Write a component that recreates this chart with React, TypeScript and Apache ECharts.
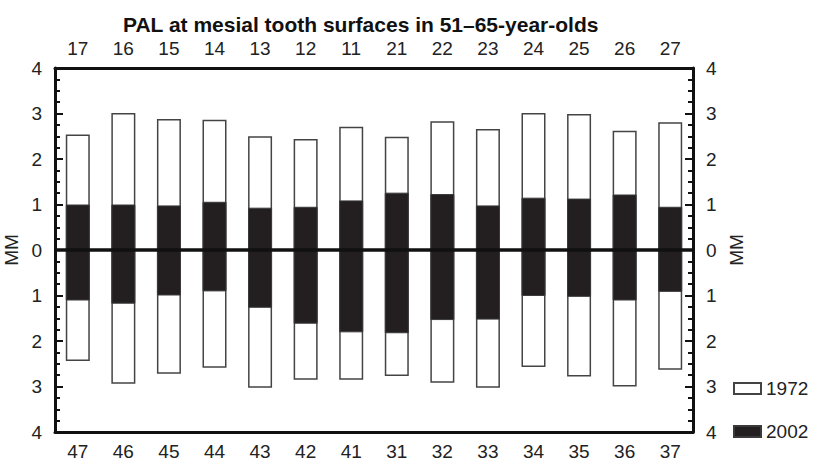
import React, { useEffect, useRef } from "react";
import * as echarts from "echarts";

const upperTeeth = ["17", "16", "15", "14", "13", "12", "11", "21", "22", "23", "24", "25", "26", "27"];
const lowerTeeth = ["47", "46", "45", "44", "43", "42", "41", "31", "32", "33", "34", "35", "36", "37"];
const upper1972 = [2.54, 3.01, 2.88, 2.86, 2.5, 2.44, 2.71, 2.49, 2.83, 2.66, 3.01, 2.99, 2.62, 2.81];
const lower1972 = [2.44, 2.94, 2.72, 2.59, 3.03, 2.85, 2.85, 2.77, 2.92, 3.03, 2.57, 2.78, 3.0, 2.63];
const upper2002 = [1.0, 1.0, 0.98, 1.06, 0.93, 0.95, 1.09, 1.26, 1.23, 0.98, 1.15, 1.13, 1.22, 0.95];
const lower2002 = [1.11, 1.18, 1.0, 0.91, 1.27, 1.62, 1.81, 1.83, 1.54, 1.53, 1.01, 1.03, 1.11, 0.92];

const FONT = "'Liberation Sans', Arial, Helvetica, sans-serif";

export default function App() {
  const ref = useRef<HTMLDivElement>(null);
  useEffect(() => {
    if (!ref.current) return;
    const chart = echarts.init(ref.current, undefined, { renderer: "svg" });
    const whiteStyle = { color: "#ffffff", borderColor: "#444444", borderWidth: 1.5 };
    const blackStyle = { color: "#231f20", borderColor: "#3a3a3a", borderWidth: 1 };
    const yAxisCommon = {
      type: "value",
      min: -4,
      max: 4,
      interval: 1,
      name: "MM",
      nameLocation: "middle",
      nameRotate: 90,
      nameTextStyle: { fontSize: 19, color: "#222", fontFamily: FONT },
      axisLine: { show: true, onZero: false, lineStyle: { color: "#111", width: 3 } },
      axisTick: { show: true, inside: true, length: 8, lineStyle: { color: "#111", width: 2 } },
      minorTick: { show: true, splitNumber: 4, length: 5, lineStyle: { color: "#111", width: 2 } },
      splitLine: { show: false },
      axisLabel: {
        fontSize: 19,
        color: "#222",
        fontFamily: FONT,
        margin: 13,
        formatter: (v: number) => String(Math.abs(v)),
      },
    };
    const xAxisCommon = {
      type: "category",
      boundaryGap: true,
      axisLine: { show: true, onZero: false, lineStyle: { color: "#111", width: 3 } },
      axisTick: { show: false },
      splitLine: { show: false },
      axisLabel: { fontSize: 19, color: "#222", fontFamily: FONT, margin: 10, interval: 0 },
    };
    chart.setOption({
      animation: false,
      backgroundColor: "#ffffff",
      title: {
        text: "PAL at mesial tooth surfaces in 51\u201365-year-olds",
        left: 118,
        top: 9,
        textStyle: { fontSize: 21, fontWeight: "bold", color: "#111", fontFamily: FONT },
      },
      legend: {
        data: ["1972", "2002"],
        orient: "vertical",
        left: 733,
        top: 379,
        padding: 0,
        itemWidth: 27,
        itemHeight: 11,
        itemGap: 24,
        icon: "rect",
        textStyle: { fontSize: 19, color: "#222", fontFamily: FONT },
      },
      grid: { left: 55, right: 122, top: 68, bottom: 29, containLabel: false, outerBoundsMode: "none" },
      xAxis: [
        { ...xAxisCommon, position: "bottom", data: lowerTeeth },
        { ...xAxisCommon, position: "top", data: upperTeeth },
      ],
      yAxis: [
        { ...yAxisCommon, position: "left", nameGap: 30 },
        { ...yAxisCommon, position: "right", nameGap: 32 },
      ],
      series: [
        {
          name: "1972",
          type: "bar",
          stack: "y1972",
          barWidth: 24,
          barGap: "-100%",
          itemStyle: whiteStyle,
          data: upper1972,
        },
        {
          name: "1972",
          type: "bar",
          stack: "y1972",
          barWidth: 24,
          barGap: "-100%",
          itemStyle: whiteStyle,
          data: lower1972.map((v) => -v),
        },
        {
          name: "2002",
          type: "bar",
          stack: "y2002",
          barWidth: 24,
          barGap: "-100%",
          itemStyle: blackStyle,
          data: upper2002,
        },
        {
          name: "2002",
          type: "bar",
          stack: "y2002",
          barWidth: 24,
          barGap: "-100%",
          itemStyle: blackStyle,
          data: lower2002.map((v) => -v),
          markLine: {
            silent: true,
            symbol: "none",
            label: { show: false },
            lineStyle: { color: "#111", width: 3.5, type: "solid" },
            data: [{ yAxis: 0 }],
          },
        },
      ],
    });
    return () => chart.dispose();
  }, []);
  return <div ref={ref} style={{ position: "absolute", left: 0, top: 0, width: 815, height: 461 }} />;
}
